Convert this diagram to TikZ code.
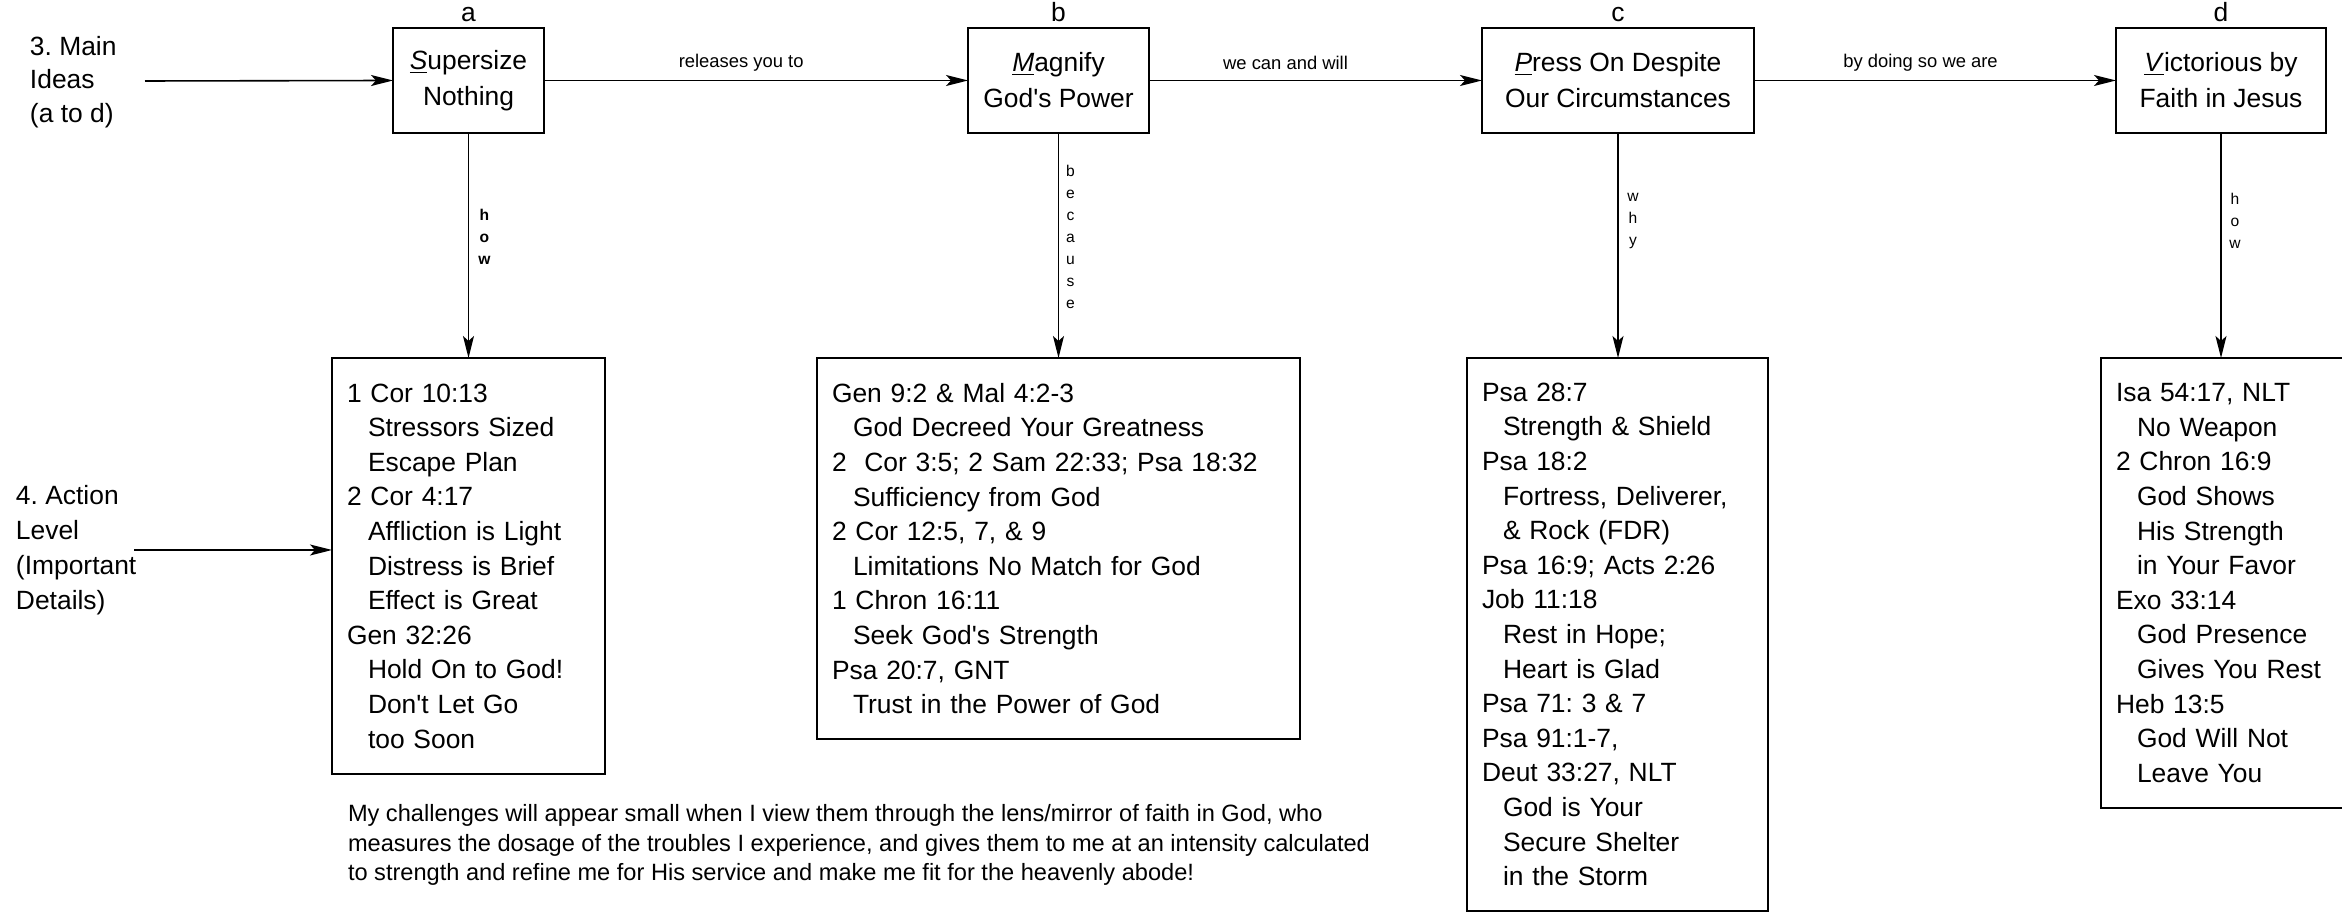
\documentclass[tikz,border=0pt]{standalone}
\usepackage{fontspec}
\setmainfont{Liberation Sans}[Ligatures=TeXOff]
\usetikzlibrary{arrows.meta}
\newcommand\indt{\hspace*{10.5pt}}
\frenchspacing
\begin{document}
\begin{tikzpicture}[x=0.5pt,y=-0.5pt,
  every node/.style={inner sep=0pt, outer sep=0pt},
  mainbox/.style={draw, line width=0.8pt, align=center, font=\fontsize{13.2pt}{18pt}\selectfont, minimum height=52.5pt},
  detbox/.style={draw, line width=0.8pt, anchor=north west, align=left, inner xsep=7.5pt, font=\fontsize{13.2pt}{17.3pt}\selectfont},
  conn/.style={line width=0.8pt, -{Stealth[length=11pt,width=5.5pt,inset=2.5pt]}},
  elab/.style={font=\fontsize{9.2pt}{11pt}\selectfont},
  vlab/.style={font=\fontsize{7.8pt}{11pt}\selectfont, align=center},
  letter/.style={font=\fontsize{13.2pt}{16pt}\selectfont, anchor=base},
  side/.style={anchor=west, align=left}
]
\path[fill=white, use as bounding box] (0,0) rectangle (2342,913);

% main ideas
\node[mainbox, minimum width=75.5pt] (ta) at (468.5,80.5) {\underline{\textit{S}}upersize\\Nothing};
\node[mainbox, minimum width=90.5pt] (tb) at (1058.5,80.5) {\underline{\textit{M}}agnify\\God's Power};
\node[mainbox, minimum width=136pt] (tc) at (1618,80.5) {\underline{\textit{P}}ress On Despite\\Our Circumstances};
\node[mainbox, minimum width=105pt] (td) at (2221,80.5) {\underline{\textit{V}}ictorious by\\Faith in Jesus};

\node[letter] (la) at (468.5,22) {a};
\node[letter] (lb) at (1058.5,22) {b};
\node[letter] (lc) at (1618,22) {c};
\node[letter] (ld) at (2221,22) {d};

% side labels
\node[side, font=\fontsize{13.2pt}{16.75pt}\selectfont] (main) at (30,82) {3. Main\\Ideas\\(a to d)};
\node[side, font=\fontsize{13.2pt}{17.5pt}\selectfont] (act) at (16,550) {4. Action\\Level\\(Important\\Details)};

% detail boxes
\node[detbox, text width=121.5pt, minimum height=208pt] (da) at (332,358) {1 Cor 10:13\\\indt Stressors Sized\\\indt Escape Plan\\2 Cor 4:17\\\indt Affliction is Light\\\indt Distress is Brief\\\indt Effect is Great\\Gen 32:26\\\indt Hold On to God!\\\indt Don't Let Go\\\indt too Soon};
\node[detbox, text width=226.5pt, minimum height=190.5pt] (db) at (817,358) {Gen 9:2 \& Mal 4:2-3\\\indt God Decreed Your Greatness\\2~\ Cor 3:5; 2 Sam 22:33; Psa 18:32\\\indt Sufficiency from God\\2 Cor 12:5, 7, \& 9\\\indt Limitations No Match for God\\1 Chron 16:11\\\indt Seek God's Strength\\Psa 20:7, GNT\\\indt Trust in the Power of God};
\node[detbox, text width=135.5pt, minimum height=276.5pt] (dc) at (1467,358) {Psa 28:7\\\indt Strength \& Shield\\Psa 18:2\\\indt Fortress, Deliverer,\\\indt \& Rock (FDR)\\Psa 16:9; Acts 2:26\\Job 11:18\\\indt Rest in Hope;\\\indt Heart is Glad\\Psa 71: 3 \& 7\\Psa 91:1-7,\\Deut 33:27, NLT\\\indt God is Your\\\indt Secure Shelter\\\indt in the Storm};
\node[detbox, text width=109.5pt, minimum height=225pt] (dd) at (2101,358) {Isa 54:17, NLT\\\indt No Weapon\\2 Chron 16:9\\\indt God Shows\\\indt His Strength\\\indt in Your Favor\\Exo 33:14\\\indt God Presence\\\indt Gives You Rest\\Heb 13:5\\\indt God Will Not\\\indt Leave You};

% bottom note
\node[side, font=\fontsize{11.8pt}{14.75pt}\selectfont] (note) at (348,845) {My challenges will appear small when I view them through the lens/mirror of faith in God, who\\measures the dosage of the troubles I experience, and gives them to me at an intensity calculated\\to strength and refine me for His service and make me fit for the heavenly abode!};

% connectors
\coordinate (s1) at (145,81);
\coordinate (s2) at (134,550);
\draw[conn] (s1) -- (ta.west);
\draw[conn] (s2) -- (s2 -| da.west);

\draw[conn] (ta.east) -- (tb.west) node[elab, pos=0.465, yshift=9pt] {releases you to};
\draw[conn] (tb.east) -- (tc.west) node[elab, pos=0.41, yshift=9pt] {we can and will};
\draw[conn] (tc.east) -- (td.west) node[elab, pos=0.46, yshift=9pt] {by doing so we are};

\draw[conn] (ta.south) -- (da.north);
\draw[conn] (tb.south) -- (db.north);
\draw[conn] (tc.south) -- (tc.south |- dc.north);
\draw[conn] (td.south) -- (td.south |- dd.north);

\path (ta.south) -- (da.north) node[vlab, pos=0.46, xshift=8pt] {\textbf{h}\\\textbf{o}\\\textbf{w}};
\path (tb.south) -- (db.north) node[vlab, pos=0.464, xshift=6pt] {b\\e\\c\\a\\u\\s\\e};
\path (tc.south) -- (tc.south |- dc.north) node[vlab, pos=0.39, xshift=7.5pt] {w\\h\\y};
\path (td.south) -- (td.south |- dd.north) node[vlab, pos=0.39, xshift=7pt] {h\\o\\w};
\end{tikzpicture}
\end{document}
